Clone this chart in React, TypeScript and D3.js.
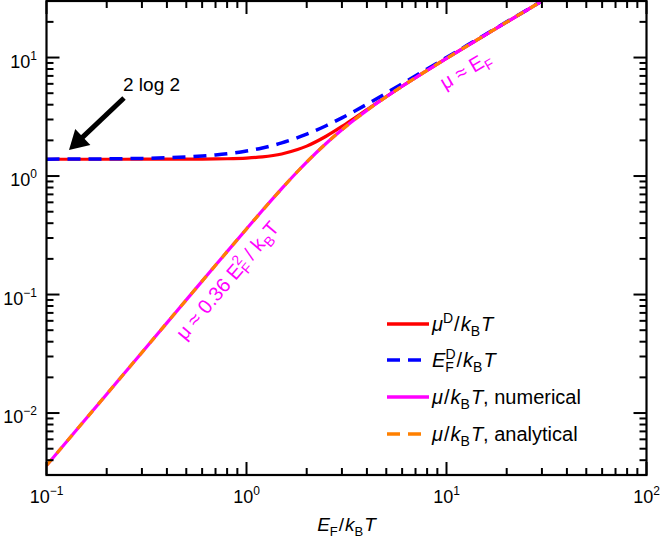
import React from 'react';
import * as d3 from 'd3';

// E_F / k_B T sample points
const ef = [0.1, 0.15, 0.2, 0.3, 0.4, 0.5, 0.6, 0.7, 0.8, 1.0, 1.2, 1.5, 1.8, 2.0, 2.5, 3.0, 3.5, 4, 5, 6, 8, 10, 15, 20, 30];
// mu^D / k_B T
const muD = [1.3863, 1.3863, 1.3863, 1.3866, 1.3871, 1.3883, 1.3905, 1.3941, 1.3995, 1.4182, 1.451, 1.5359, 1.6714, 1.7885, 2.1668, 2.6208, 3.1202, 3.6359, 4.6823, 5.727, 7.7926, 9.8342, 14.8899, 19.9176, 29.9451];
// E_F^D / k_B T
const efD = [1.3888, 1.3919, 1.3963, 1.4087, 1.426, 1.4482, 1.475, 1.5064, 1.5422, 1.6266, 1.7266, 1.903, 2.106, 2.2539, 2.6579, 3.0972, 3.5595, 4.0363, 5.0134, 6.005, 8.0007, 10.0001, 15, 20, 30];
// mu / k_B T numerical
const muNum = [0.003607, 0.008115, 0.014427, 0.03246, 0.05769, 0.09013, 0.1297, 0.1764, 0.2301, 0.3579, 0.5114, 0.7831, 1.0925, 1.313, 1.883, 2.4585, 3.0255, 3.581, 4.6635, 5.7204, 7.7918, 9.8341, 14.8899, 19.9176, 29.9451];
// mu / k_B T analytical
const muAna = [0.003607, 0.008115, 0.014427, 0.03246, 0.05769, 0.09013, 0.1297, 0.1764, 0.2301, 0.3579, 0.5114, 0.7831, 1.0925, 1.313, 1.883, 2.4585, 3.0255, 3.581, 4.6635, 5.7204, 7.7918, 9.8341, 14.8899, 19.9176, 29.9451];

const xMajor = [0.1, 1, 10, 100];
const xTickExp = ['\u22121', '0', '1', '2'];
const yMajor = [0.01, 0.1, 1, 10];
const yTickExp = ['\u22122', '\u22121', '0', '1'];

const W = 661, H = 541;
const L = 46.5, R = 646.5, T = 1, B = 475;
const FONT = 'Liberation Sans, Arial, Helvetica, sans-serif';
const MAG = '#ff00ff';

export default function App() {
  const x = d3.scaleLog().domain([0.1, 100]).range([L, R]);
  const y = d3.scaleLog().domain([0.003, 30]).range([B, T]);

  const xTicks: { v: number; major: boolean }[] = [];
  for (let k = -1; k <= 2; k++) {
    for (let i = 1; i <= 9; i++) {
      const v = i * Math.pow(10, k);
      if (v >= 0.1 - 1e-9 && v <= 100 + 1e-9) xTicks.push({ v, major: i === 1 });
    }
  }
  const yTicks: { v: number; major: boolean }[] = [];
  for (let k = -3; k <= 1; k++) {
    for (let i = 1; i <= 9; i++) {
      const v = i * Math.pow(10, k);
      if (v >= 0.003 - 1e-9 && v <= 30 + 1e-9) yTicks.push({ v, major: i === 1 });
    }
  }

  const line = d3
    .line<[number, number]>()
    .x((d) => x(d[0]))
    .y((d) => y(d[1]))
    .curve(d3.curveMonotoneX);

  const pts = (arr: number[]) => ef.map((e, i) => [e, arr[i]] as [number, number]);

  const Maj = 13, Min = 7;

  // arrow geometry
  const tip = [69, 150];
  const tail = [124, 98];
  const dx = tip[0] - tail[0], dy = tip[1] - tail[1];
  const len = Math.hypot(dx, dy);
  const ux = dx / len, uy = dy / len;
  const hl = 19, hw = 11;
  const bx = tip[0] - hl * ux, by = tip[1] - hl * uy;
  const px = -uy, py = ux;

  const legendItems = [
    { key: 'muD', color: '#ff0000', dash: undefined as string | undefined, y: 324 },
    { key: 'efD', color: '#0000ff', dash: '13,8', y: 360 },
    { key: 'num', color: MAG, dash: undefined, y: 397 },
    { key: 'ana', color: '#ff8000', dash: '13,8', y: 434 },
  ];

  const legendText = (key: string) => {
    const sub = 14;
    if (key === 'muD')
      return (
        <>
          <tspan fontStyle="italic">μ</tspan>
          <tspan fontSize={sub} dy={-8}>D</tspan>
          <tspan dy={8} dx={1}>/</tspan>
          <tspan fontStyle="italic" dx={1}>k</tspan>
          <tspan fontSize={sub} dy={5}>B</tspan>
          <tspan fontStyle="italic" dy={-5} dx={1}>T</tspan>
        </>
      );
    if (key === 'efD')
      return (
        <>
          <tspan fontStyle="italic">E</tspan>
          <tspan fontSize={sub} dy={5}>F</tspan>
          <tspan fontSize={sub} dx={-8.5} dy={-13}>D</tspan>
          <tspan dy={8} dx={1}>/</tspan>
          <tspan fontStyle="italic" dx={1}>k</tspan>
          <tspan fontSize={sub} dy={5}>B</tspan>
          <tspan fontStyle="italic" dy={-5} dx={1}>T</tspan>
        </>
      );
    const word = key === 'num' ? 'numerical' : 'analytical';
    return (
      <>
        <tspan fontStyle="italic">μ</tspan>
        <tspan dx={1}>/</tspan>
        <tspan fontStyle="italic" dx={1}>k</tspan>
        <tspan fontSize={sub} dy={5}>B</tspan>
        <tspan fontStyle="italic" dy={-5} dx={1}>T</tspan>
        <tspan>, {word}</tspan>
      </>
    );
  };

  return (
    <svg
      width={W}
      height={H}
      style={{ position: 'absolute', left: 0, top: 0, background: '#fff' }}
      fontFamily={FONT}
    >
      <defs>
        <clipPath id="plotclip">
          <rect x={L} y={T} width={R - L} height={B - T} />
        </clipPath>
      </defs>

      {/* curves */}
      <g clipPath="url(#plotclip)" fill="none">
        <path d={line(pts(muD)) || ''} stroke="#ff0000" strokeWidth={3.2} />
        <path d={line(pts(efD)) || ''} stroke="#0000ff" strokeWidth={3.5} strokeDasharray="13,8" />
        <path d={line(pts(muNum)) || ''} stroke={MAG} strokeWidth={3.2} />
        <path d={line(pts(muAna)) || ''} stroke="#ff8000" strokeWidth={3.2} strokeDasharray="8,8" />
      </g>

      {/* ticks */}
      <g stroke="#000" strokeWidth={2}>
        {xTicks.map((t, i) => {
          const xx = x(t.v);
          const l = t.major ? Maj : Min;
          return (
            <g key={'xt' + i}>
              <line x1={xx} x2={xx} y1={B} y2={B - l} />
              <line x1={xx} x2={xx} y1={T} y2={T + l} />
            </g>
          );
        })}
        {yTicks.map((t, i) => {
          const yy = y(t.v);
          const l = t.major ? Maj : Min;
          return (
            <g key={'yt' + i}>
              <line x1={L} x2={L + l} y1={yy} y2={yy} />
              <line x1={R} x2={R - l} y1={yy} y2={yy} />
            </g>
          );
        })}
      </g>

      {/* frame */}
      <rect x={L} y={T} width={R - L} height={B - T} fill="none" stroke="#000" strokeWidth={2.2} />

      {/* tick labels */}
      <g fontSize={18} fill="#000">
        {xMajor.map((v, i) => (
          <text key={'xl' + i} x={x(v)} y={503} textAnchor="middle">
            10<tspan fontSize={12} dy={-8}>{xTickExp[i]}</tspan>
          </text>
        ))}
        {yMajor.map((v, i) => (
          <text key={'yl' + i} x={37} y={y(v) + 10} textAnchor="end">
            10<tspan fontSize={12} dy={-8}>{yTickExp[i]}</tspan>
          </text>
        ))}
      </g>

      {/* x axis label */}
      <text x={(L + R) / 2} y={531} textAnchor="middle" fontSize={19} fill="#000">
        <tspan fontStyle="italic">E</tspan>
        <tspan fontSize={13} dy={5}>F</tspan>
        <tspan dy={-5} dx={1}>/</tspan>
        <tspan fontStyle="italic" dx={1}>k</tspan>
        <tspan fontSize={13} dy={5}>B</tspan>
        <tspan fontStyle="italic" dy={-5} dx={1}>T</tspan>
      </text>

      {/* legend */}
      {legendItems.map((it) => (
        <g key={it.key}>
          <line x1={387} x2={429} y1={it.y} y2={it.y} stroke={it.color} strokeWidth={3.5} strokeDasharray={it.dash} />
          <text x={432} y={it.y + 7} fontSize={20} fill="#000">
            {legendText(it.key)}
          </text>
        </g>
      ))}

      {/* 2 log 2 annotation */}
      <text x={123} y={91} fontSize={19} fill="#000">2 log 2</text>
      <line x1={tail[0]} y1={tail[1]} x2={bx + 2 * ux} y2={by + 2 * uy} stroke="#000" strokeWidth={5} />
      <polygon
        points={`${tip[0]},${tip[1]} ${bx + hw * px},${by + hw * py} ${bx - hw * px},${by - hw * py}`}
        fill="#000"
      />

      {/* mu ≈ E_F annotation */}
      <text transform="translate(445,90) rotate(-30.6)" fontSize={20} fill={MAG}>
        <tspan>μ ≈ E</tspan>
        <tspan fontSize={14} dy={5}>F</tspan>
      </text>

      {/* mu ≈ 0.36 E_F^2 / k_B T annotation */}
      <text transform="translate(185,341) rotate(-49.8)" fontSize={20} fill={MAG}>
        <tspan>μ ≈ 0.36 E</tspan>
        <tspan fontSize={14} dy={5}>F</tspan>
        <tspan fontSize={14} dx={-8.5} dy={-13}>2</tspan>
        <tspan dy={8}> / k</tspan>
        <tspan fontSize={14} dy={5}>B</tspan>
        <tspan dy={-5}>T</tspan>
      </text>
    </svg>
  );
}
